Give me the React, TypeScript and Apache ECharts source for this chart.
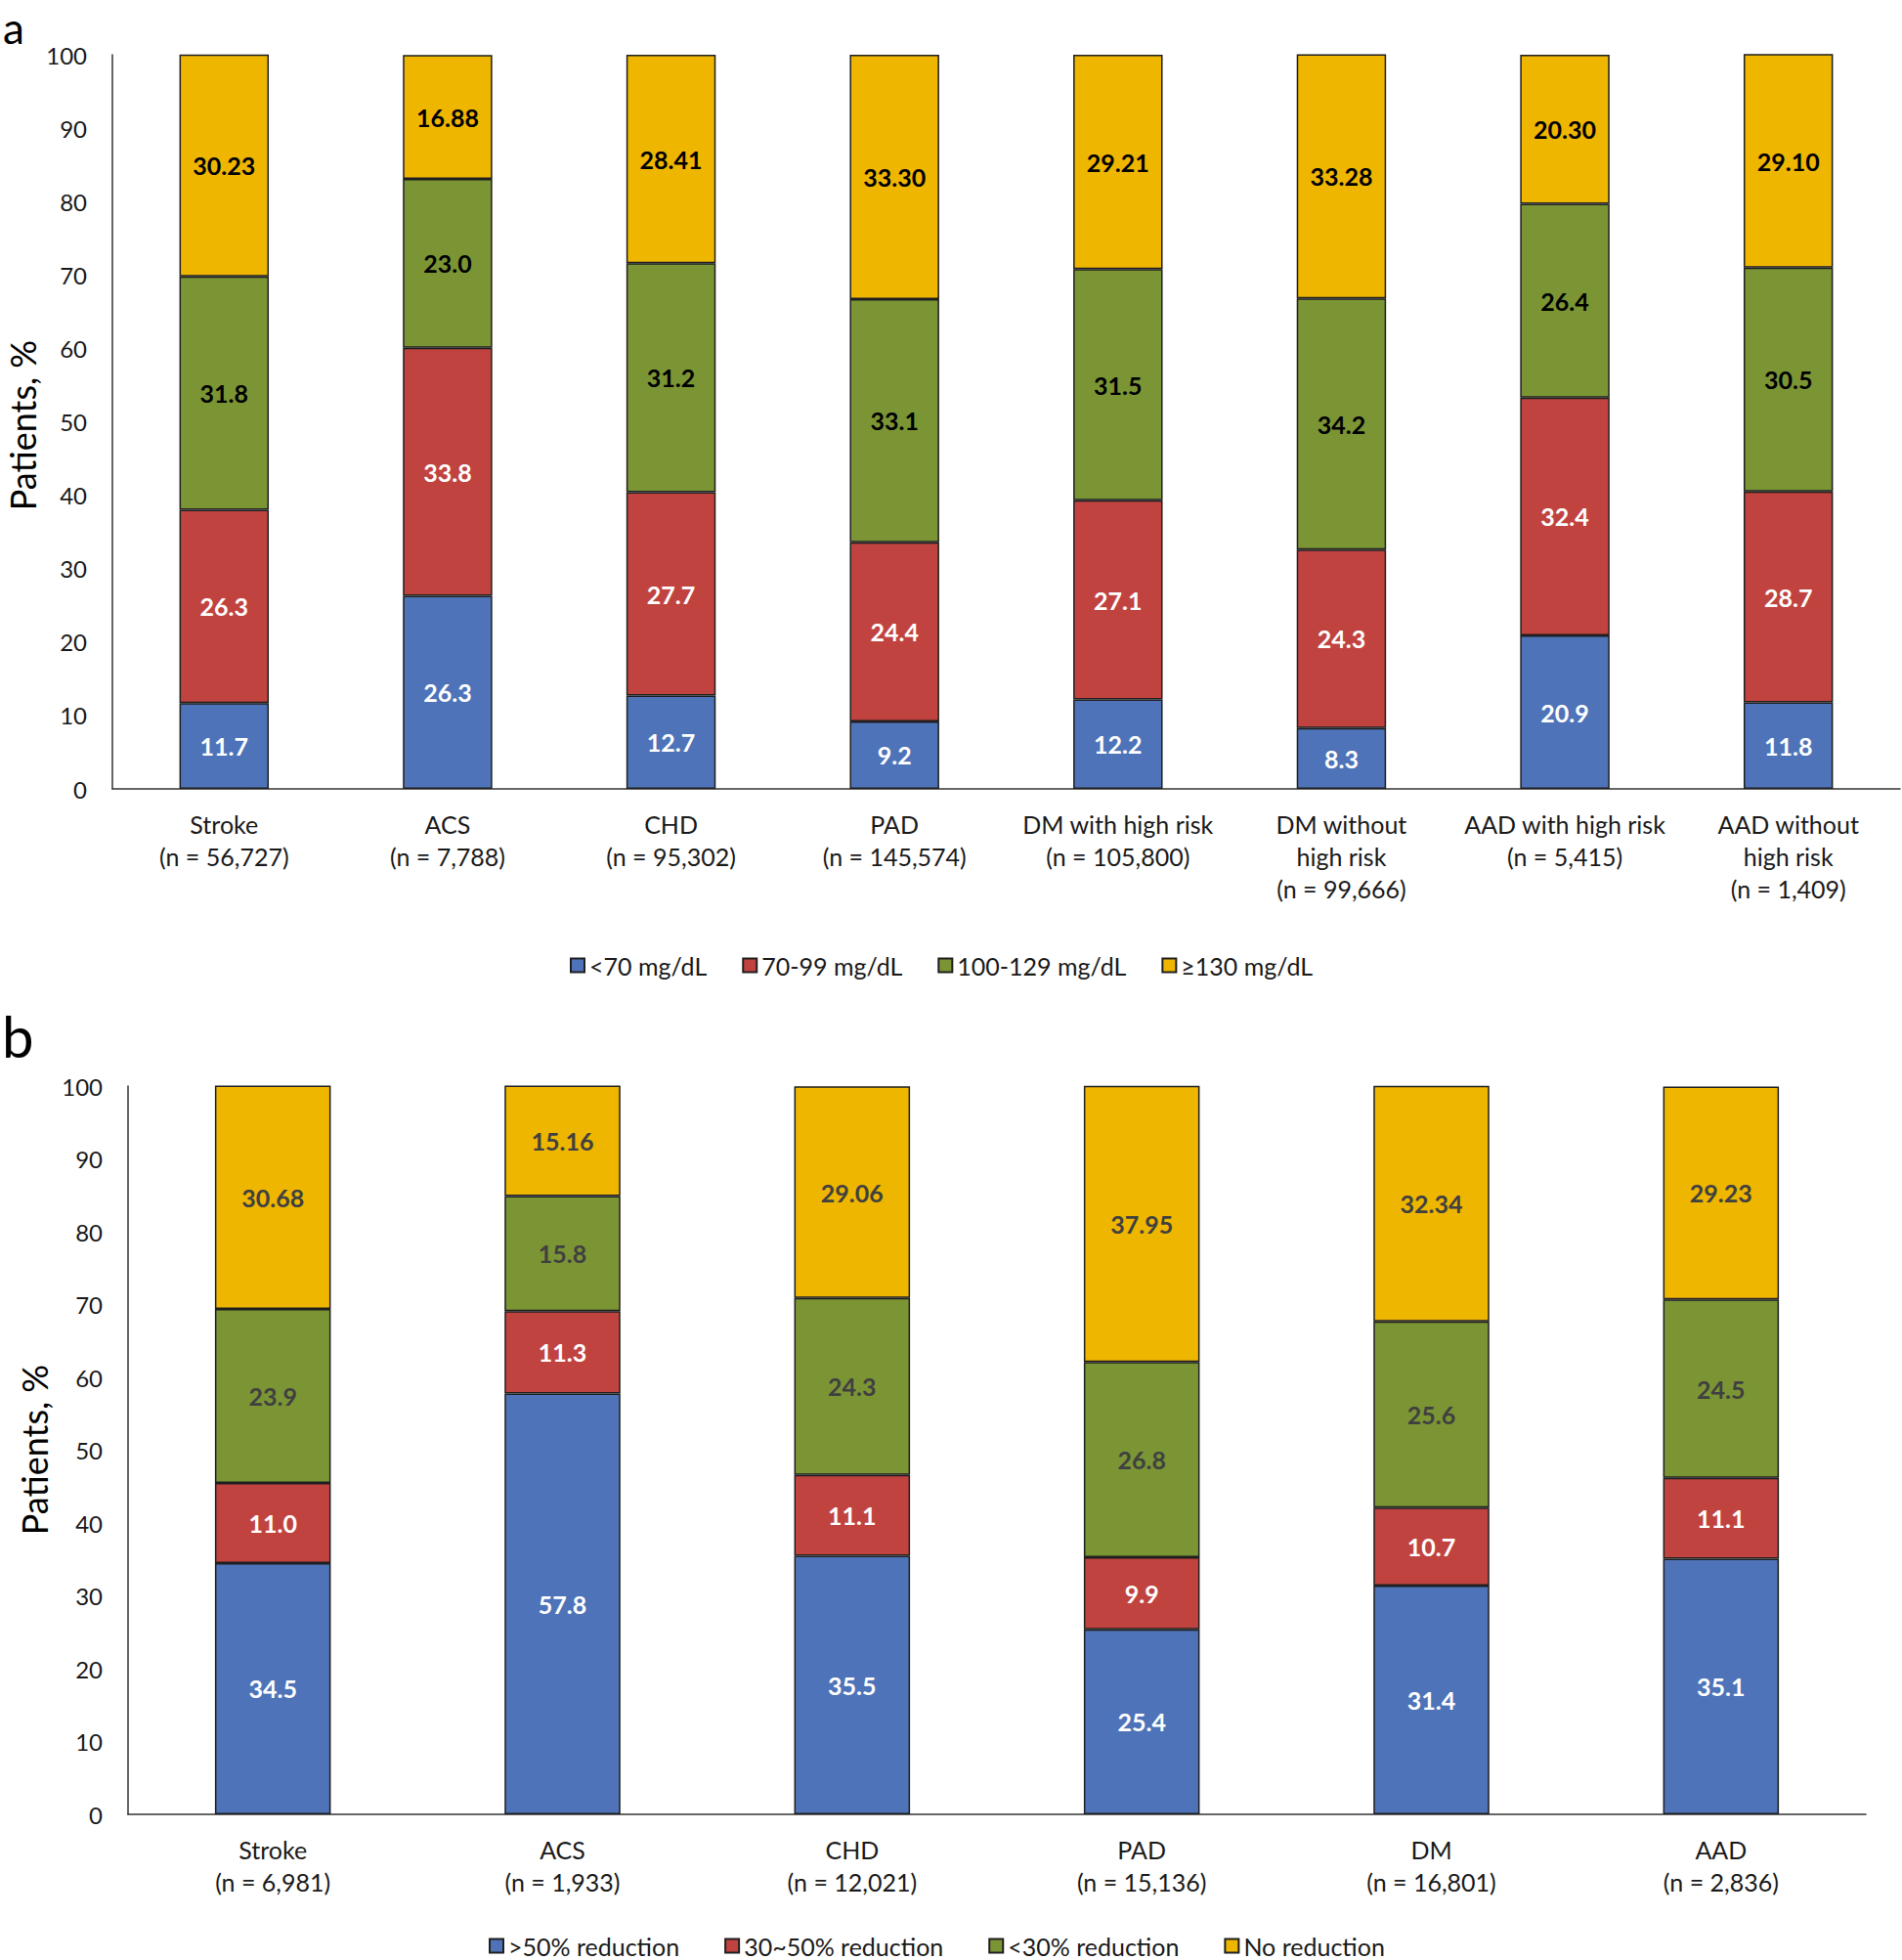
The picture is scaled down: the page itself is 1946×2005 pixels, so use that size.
import React, { useEffect, useRef } from "react";
import * as echarts from "echarts";

const categoriesA = [
  "Stroke\n(n = 56,727)",
  "ACS\n(n = 7,788)",
  "CHD\n(n = 95,302)",
  "PAD\n(n = 145,574)",
  "DM with high risk\n(n = 105,800)",
  "DM without\nhigh risk\n(n = 99,666)",
  "AAD with high risk\n(n = 5,415)",
  "AAD without\nhigh risk\n(n = 1,409)",
];
const seriesNamesA = ["<70 mg/dL", "70-99 mg/dL", "100-129 mg/dL", "≥130 mg/dL"];
const a_lt70 = [11.7, 26.3, 12.7, 9.2, 12.2, 8.3, 20.9, 11.8];
const a_70_99 = [26.3, 33.8, 27.7, 24.4, 27.1, 24.3, 32.4, 28.7];
const a_100_129 = [31.8, 23.0, 31.2, 33.1, 31.5, 34.2, 26.4, 30.5];
const a_ge130 = [30.23, 16.88, 28.41, 33.3, 29.21, 33.28, 20.3, 29.1];

const categoriesB = [
  "Stroke\n(n = 6,981)",
  "ACS\n(n = 1,933)",
  "CHD\n(n = 12,021)",
  "PAD\n(n = 15,136)",
  "DM\n(n = 16,801)",
  "AAD\n(n = 2,836)",
];
const seriesNamesB = [">50% reduction", "30~50% reduction", "<30% reduction", "No reduction"];
const b_gt50 = [34.5, 57.8, 35.5, 25.4, 31.4, 35.1];
const b_30_50 = [11.0, 11.3, 11.1, 9.9, 10.7, 11.1];
const b_lt30 = [23.9, 15.8, 24.3, 26.8, 25.6, 24.5];
const b_none = [30.68, 15.16, 29.06, 37.95, 32.34, 29.23];

const yTicks = [0, 10, 20, 30, 40, 50, 60, 70, 80, 90, 100];

const COLORS = ["#4E73B8", "#C1433F", "#7B9535", "#EFB600"];
const FONT = "Lato";

export default function App() {
  const ref = useRef<HTMLDivElement>(null);
  useEffect(() => {
    document.body.style.margin = "0";
    const chart = echarts.init(ref.current!, null, { renderer: "svg" });

    const mkSeries = (
      names: string[],
      data: number[][],
      gridIdx: number,
      darkLabel: string
    ) =>
      names.map((n, i) => ({
        name: n,
        type: "bar",
        stack: "s" + gridIdx,
        xAxisIndex: gridIdx,
        yAxisIndex: gridIdx,
        barWidth: "40%",
        data: data[i],
        itemStyle: { color: COLORS[i], borderColor: "#1f1f1f", borderWidth: 1.5 },
        label: {
          show: true,
          position: "inside",
          fontFamily: FONT,
          fontWeight: "bold",
          fontSize: 25,
          color: i < 2 ? "#ffffff" : darkLabel,
          formatter: (p: any) => Number(p.value).toFixed(i === 3 ? 2 : 1),
        },
      }));

    const axisLine = { show: true, lineStyle: { color: "#333", width: 1.5 } };

    const yAxisBase = {
      type: "value",
      min: 0,
      max: 100,
      interval: 10,
      axisLine,
      axisTick: { show: false },
      splitLine: { show: false },
      axisLabel: {
        fontFamily: FONT,
        fontSize: 24,
        color: "#1a1a1a",
        margin: 26,
        formatter: (v: number) => (yTicks.includes(v) ? String(v) : ""),
      },
    };

    const xAxisBase = {
      type: "category",
      axisLine,
      axisTick: { show: false },
      axisLabel: {
        fontFamily: FONT,
        fontSize: 25,
        color: "#1a1a1a",
        lineHeight: 33,
        margin: 19,
        interval: 0,
      },
    };

    const legendBase = {
      icon: "rect",
      itemWidth: 14,
      itemHeight: 14,
      textStyle: { fontFamily: FONT, fontSize: 25, color: "#1a1a1a" },
    };

    const titleStyle = {
      text: "Patients, %",
      fontFamily: FONT,
      fontSize: 36,
      fill: "#000",
      align: "center",
      verticalAlign: "middle",
    };

    chart.setOption({
      animation: false,
      backgroundColor: "#ffffff",
      grid: [
        { left: 115, top: 56, width: 1829, height: 751 },
        { left: 131, top: 1111, width: 1778, height: 745 },
      ],
      xAxis: [
        { ...xAxisBase, gridIndex: 0, data: categoriesA },
        { ...xAxisBase, gridIndex: 1, data: categoriesB },
      ],
      yAxis: [
        { ...yAxisBase, gridIndex: 0 },
        { ...yAxisBase, gridIndex: 1 },
      ],
      legend: [
        { ...legendBase, itemGap: 36, data: seriesNamesA, left: 578, top: 970 },
        { ...legendBase, itemGap: 46, data: seriesNamesB, left: 495, top: 1973 },
      ],
      series: [
        ...mkSeries(seriesNamesA, [a_lt70, a_70_99, a_100_129, a_ge130], 0, "#000000"),
        ...mkSeries(seriesNamesB, [b_gt50, b_30_50, b_lt30, b_none], 1, "#404040"),
      ],
      graphic: [
        {
          type: "text",
          left: 3,
          top: 6,
          style: { text: "a", fontFamily: FONT, fontSize: 44, fill: "#000" },
        },
        {
          type: "text",
          left: 2,
          top: 1030,
          style: { text: "b", fontFamily: FONT, fontSize: 58, fill: "#000" },
        },
        { type: "text", x: 23, y: 435, rotation: Math.PI / 2, style: titleStyle },
        { type: "text", x: 35, y: 1483, rotation: Math.PI / 2, style: titleStyle },
      ],
    });
    return () => chart.dispose();
  }, []);
  return <div ref={ref} style={{ width: 1946, height: 2005 }} />;
}
